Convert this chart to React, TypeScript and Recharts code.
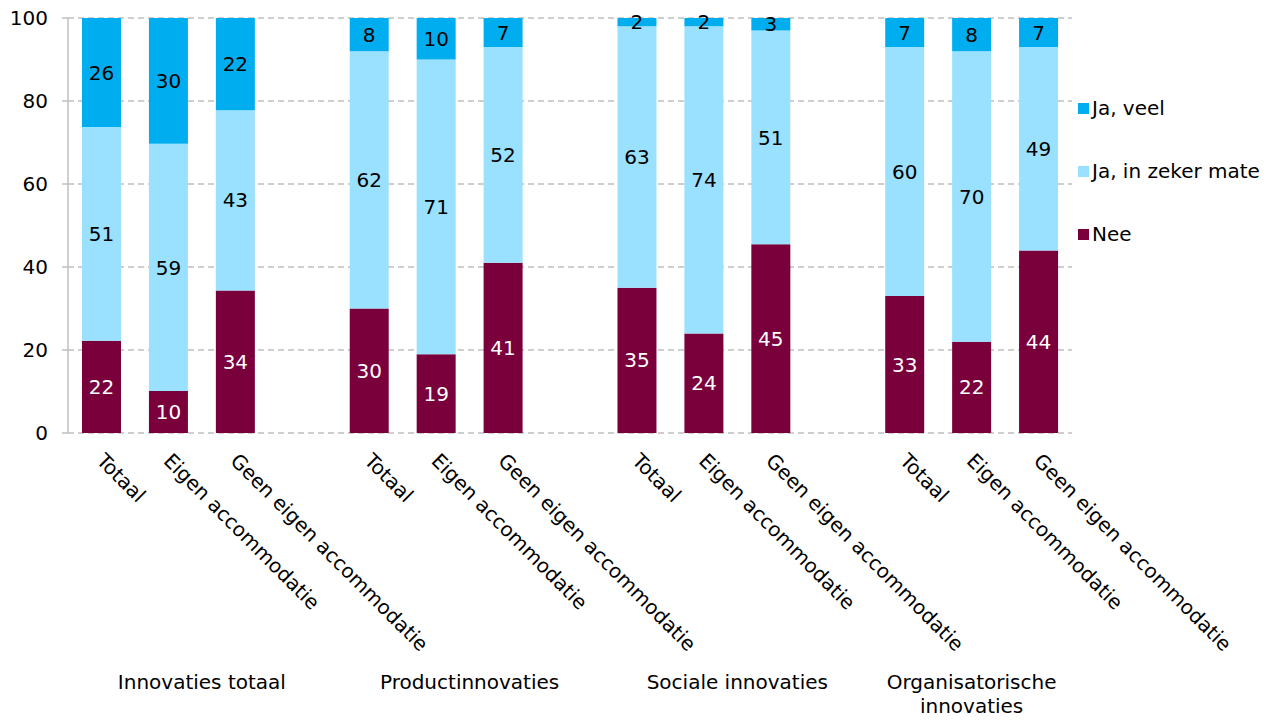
import { Bar, BarChart, CartesianGrid, LabelList, XAxis, YAxis } from "recharts";

const groups = ["Innovaties totaal", "Productinnovaties", "Sociale innovaties", "Organisatorische innovaties"];
const subgroups = ["Totaal", "Eigen accommodatie", "Geen eigen accommodatie"];

// percentages per bar, group by group
const jaVeel = [26, 30, 22, 8, 10, 7, 2, 2, 3, 7, 8, 7];
const jaZekerMate = [51, 59, 43, 62, 71, 52, 63, 74, 51, 60, 70, 49];
const nee = [22, 10, 34, 30, 19, 41, 35, 24, 45, 33, 22, 44];

const yTicks = [0, 0.2, 0.4, 0.6, 0.8, 1];

const series = [
  { key: "jaVeel", name: "Ja, veel", color: "#00AEEF", text: "#000" },
  { key: "jaZekerMate", name: "Ja, in zeker mate", color: "#99E1FF", text: "#000" },
  { key: "nee", name: "Nee", color: "#7A003C", text: "#fff" },
];

const W = 1277;
const H = 721;
const margin = { top: 18, right: 205, bottom: 0, left: 0 };
const yAxisWidth = 68;
const slots = groups.length * subgroups.length + groups.length - 1;
const slotWidth = (W - margin.left - margin.right - yAxisWidth) / slots;
const font = '"DejaVu Sans", sans-serif';

type Row = {
  key: string;
  sub: string;
  groupIdx: number;
  subIdx: number;
  nee?: number;
  jaZekerMate?: number;
  jaVeel?: number;
};

const rows: Row[] = [];
groups.forEach((_, gi) => {
  subgroups.forEach((s, si) => {
    const i = gi * subgroups.length + si;
    rows.push({ key: `${gi}-${si}`, sub: s, groupIdx: gi, subIdx: si, nee: nee[i], jaZekerMate: jaZekerMate[i], jaVeel: jaVeel[i] });
  });
  // empty slot between groups
  if (gi < groups.length - 1) rows.push({ key: `gap-${gi}`, sub: "", groupIdx: gi, subIdx: -1 });
});

function splitLabel(label: string): string[] {
  if (label.length <= 20) return [label];
  const cut = label.lastIndexOf(" ");
  return [label.slice(0, cut), label.slice(cut + 1)];
}

function CategoryTick(props: any) {
  const { x, y, payload } = props;
  const row = rows.find((r) => r.key === payload.value);
  if (!row || row.subIdx < 0) return <g />;
  const hasGap = row.groupIdx < groups.length - 1;
  const gx = x + (hasGap ? slotWidth / 2 : 0);
  const lines = splitLabel(groups[row.groupIdx]);
  return (
    <g>
      <text transform={`translate(${x - 6},${y + 29}) rotate(45)`} fontSize={20} fill="#000" fontFamily={font}>
        {row.sub}
      </text>
      {row.subIdx === 1 && (
        <text x={gx} y={y + 256} textAnchor="middle" fontSize={20} fill="#000" fontFamily={font}>
          {lines.map((l, k) => (
            <tspan key={k} x={gx} dy={k === 0 ? 0 : 24}>
              {l}
            </tspan>
          ))}
        </text>
      )}
    </g>
  );
}

function LegendBox() {
  return (
    <svg width={200} height={170} style={{ position: "absolute", left: 1078, top: 90, fontFamily: font }}>
      {series.map((s, i) => {
        const base = 25 + i * 63;
        return (
          <g key={s.key}>
            <rect x={0} y={base - 12} width={11} height={11} fill={s.color} />
            <text x={14} y={base} fontSize={20} fill="#000">
              {s.name}
            </text>
          </g>
        );
      })}
    </svg>
  );
}

export default function App() {
  const stackOrder = [series[2], series[1], series[0]];
  return (
    <div style={{ position: "absolute", left: 0, top: 0, width: W, height: H, fontFamily: font }}>
      <BarChart width={W} height={H} data={rows} margin={margin} stackOffset="expand">
        <CartesianGrid vertical={false} stroke="#BFBFBF" strokeDasharray="6 4" strokeWidth={1.5} />
        <XAxis
          dataKey="key"
          height={288}
          interval={0}
          axisLine={false}
          tickLine={false}
          tickSize={0}
          tickMargin={0}
          tick={(p: any) => <CategoryTick {...p} />}
        />
        <YAxis
          width={yAxisWidth}
          domain={[0, 1]}
          ticks={yTicks}
          tickFormatter={(v: number) => String(Math.round(v * 100))}
          tick={{ fontSize: 20, fill: "#000", fontFamily: font }}
          tickSize={6}
          tickMargin={14}
          axisLine={{ stroke: "#BFBFBF", strokeWidth: 1.5 }}
          tickLine={{ stroke: "#BFBFBF", strokeWidth: 1.5 }}
        />
        {stackOrder.map((s) => (
          <Bar key={s.key} dataKey={s.key} name={s.name} stackId="a" fill={s.color} barSize={39} isAnimationActive={false}>
            <LabelList
              dataKey={s.key}
              position="center"
              fill={s.text}
              fontSize={20}
              fontFamily={font}
              formatter={(v: any) => (v == null ? "" : v)}
            />
          </Bar>
        ))}
      </BarChart>
      <LegendBox />
    </div>
  );
}
